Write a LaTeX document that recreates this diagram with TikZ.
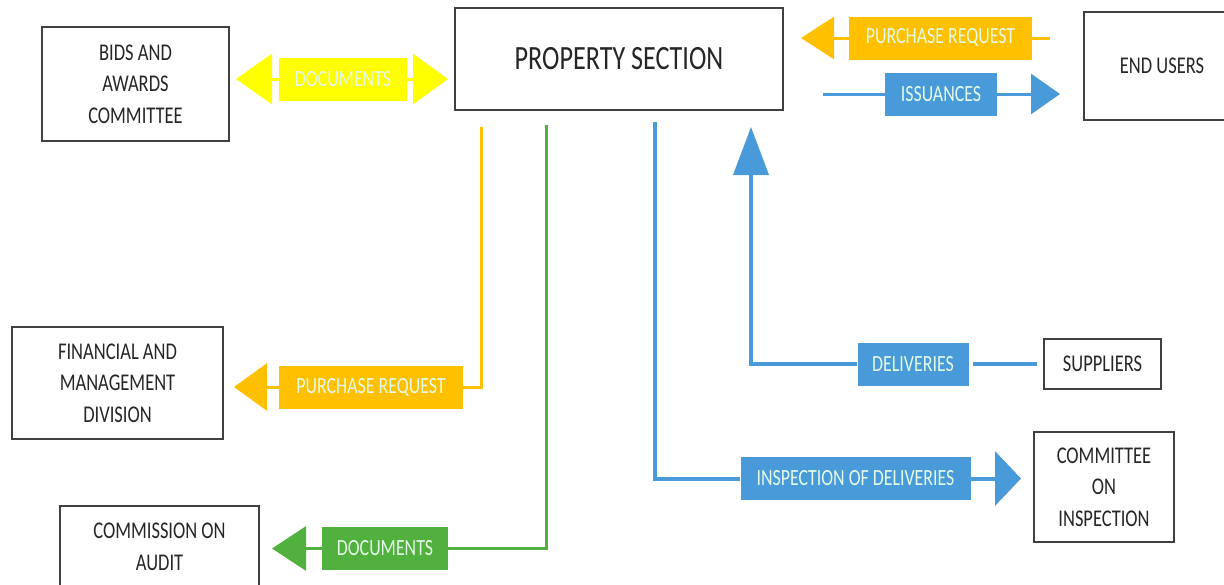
\documentclass[tikz,border=0pt]{standalone}
\usepackage{fontspec}
\newfontfamily\diafont{Carlito}[FakeStretch=0.77]
\usetikzlibrary{arrows.meta, positioning, calc}

\definecolor{docyellow}{RGB}{255,255,0}
\definecolor{prorange}{RGB}{255,192,0}
\definecolor{docgreen}{RGB}{82,176,62}
\definecolor{flowblue}{RGB}{72,155,216}
\definecolor{boxline}{RGB}{64,64,64}
\definecolor{labeltext}{RGB}{228,250,232}

\tikzset{
  unitbox/.style={draw=boxline, line width=1pt, fill=white, align=center, text=black!85, inner sep=2pt, font=\diafont\fontsize{12}{15.75}\selectfont},
  tagbox/.style={fill=#1, text=labeltext, inner sep=0pt, minimum height=21.5pt, font=\diafont\fontsize{11.6}{14}\selectfont},
  flow/.style={draw=#1, line width=1.5pt},
}

\begin{document}
\begin{tikzpicture}[x=0.5pt, y=-0.5pt]
        \useasboundingbox (0,0) rectangle (1224,584);
        \clip (0,0) rectangle (1224,584);

        % Property section (top middle)
        \node[unitbox, minimum width=164pt, minimum height=51pt, font=\diafont\fontsize{17}{20}\selectfont] (ps) at (619,59) {PROPERTY SECTION};

        % Bids and awards committee (top left)
        \node[unitbox, minimum width=93.5pt, minimum height=57pt] (bac) at (135.5,84) {BIDS AND\\AWARDS\\COMMITTEE};

        % End users (top right)
        \node[unitbox, minimum width=78pt, minimum height=54pt] (eu) at (1162,66) {END USERS};

        % Financial and management division (left)
        \node[unitbox, minimum width=105.5pt, minimum height=56pt] (fmd) at (117.5,383) {FINANCIAL AND\\MANAGEMENT\\DIVISION};

        % Commission on audit (bottom left)
        \node[unitbox, minimum width=99.5pt, minimum height=41pt] (coa) at (159.5,547) {COMMISSION ON\\AUDIT};

        % Suppliers (right)
        \node[unitbox, minimum width=58.5pt, minimum height=25pt] (sup) at (1102.5,364) {SUPPLIERS};

        % Committee on inspection (bottom right)
        \node[unitbox, minimum width=70pt, minimum height=55pt] (coi) at (1104,487) {COMMITTEE\\ON\\INSPECTION};

        % Labels on the flows
        \node[tagbox=docyellow, minimum width=64pt] (doc1) at (343,79) {DOCUMENTS};
        \node[tagbox=prorange, minimum width=91.5pt] (pr1) at (940.5,38) {PURCHASE REQUEST};
        \node[tagbox=flowblue, minimum width=56pt] (iss) at (941,94) {ISSUANCES};
        \node[tagbox=prorange, minimum width=92pt] (pr2) at (371,387) {PURCHASE REQUEST};
        \node[tagbox=docgreen, minimum width=63pt] (doc2) at (385,548.5) {DOCUMENTS};
        \node[tagbox=flowblue, minimum width=55.5pt] (del) at (913,364) {DELIVERIES};
        \node[tagbox=flowblue, minimum width=115pt] (insp) at (855.5,478.5) {INSPECTION OF DELIVERIES};

        % Documents both ways
        \draw[flow=docyellow, -{Triangle[length=18pt,width=25pt]}, shorten >=3pt] (doc1.west) -- (doc1.west -| bac.east);
        \draw[flow=docyellow, -{Triangle[length=17.5pt,width=25pt]}, shorten >=3pt] (doc1.east) -- (doc1.east -| ps.west);

        % Purchase request from end users
        \draw[flow=prorange, shorten <=16.5pt] (pr1.east -| eu.west) -- (pr1.east);
        \draw[flow=prorange, -{Triangle[length=16.5pt,width=21pt]}, shorten >=8.5pt] (pr1.west) -- (pr1.west -| ps.east);

        % Issuances
        \draw[flow=flowblue, shorten <=19.5pt] (iss.west -| ps.east) -- (iss.west);
        \draw[flow=flowblue, -{Triangle[length=14.5pt,width=20pt]}, shorten >=11.5pt] (iss.east) -- (iss.east -| eu.west);

        % Purchase request to financial
        \draw[flow=prorange, shorten <=8pt] ([xshift=13.5pt]ps.south west) |- (pr2.east);
        \draw[flow=prorange, -{Triangle[length=16.5pt,width=23.5pt]}, shorten >=5pt] (pr2.west) -- (pr2.west -| fmd.east);

        % Documents to audit
        \draw[flow=docgreen, shorten <=7pt] ([xshift=46pt]ps.south west) |- (doc2.east);
        \draw[flow=docgreen, -{Triangle[length=17pt,width=22pt]}, shorten >=6pt] (doc2.west) -- (doc2.west -| coa.east);

        % Inspection of deliveries
        \draw[flow=flowblue, line width=2pt, shorten <=5.5pt] ([xshift=100.5pt]ps.south west) |- (insp.west);
        \draw[flow=flowblue, line width=2pt, -{Triangle[length=13pt,width=27pt]}, shorten >=6pt] (insp.east) -- (insp.east -| coi.west);

        % Deliveries up to property section
        \draw[flow=flowblue, line width=2pt, -{Triangle[length=24pt,width=17.5pt]}, shorten >=8pt] (del.west) -| ([xshift=148.5pt]ps.south west);
        \draw[flow=flowblue, line width=2pt, shorten <=3pt, shorten >=2pt] (sup.west) -- (del.east);
\end{tikzpicture}
\end{document}
